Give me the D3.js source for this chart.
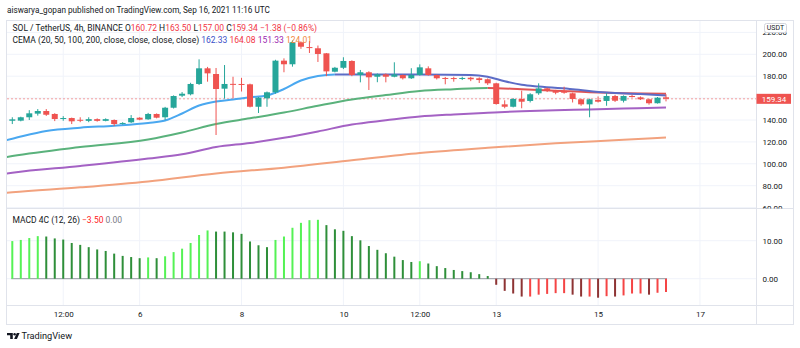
<!DOCTYPE html>
<html><head><meta charset="utf-8">
<script src="https://cdn.jsdelivr.net/npm/d3@7/dist/d3.min.js"></script>
<style>
body{margin:0;background:#fff;}
svg{display:block;}
text{font-family:Roboto,"Liberation Sans",Arial,sans-serif;fill:#131722;}
</style></head>
<body><svg id="c" width="800" height="348"></svg>
<script>
// ---------- DATA ----------
const firstCandle = "2021-09-03T08:00";   // 4h candles
const opens  = [144.6,139.3,139.4,142.5,145.8,148.2,145.5,141.4,141.8,140.2,139.2,140.8,139.2,140.0,136.5,137.9,142.1,140.6,145.5,142.5,151.2,162.2,163.5,172.9,187.2,182.0,168.6,173.0,172.9,172.6,152.1,159.8,165.3,194.2,190.9,211.0,206.6,205.5,200.9,184.1,187.7,193.9,181.1,183.6,179.5,181.7,179.5,181.1,178.1,181.1,187.2,181.1,178.4,178.3,178.1,178.6,178.1,177.2,173.5,154.3,152.1,159.2,157.4,164.4,168.9,166.8,166.8,164.4,158.9,154.3,158.3,157.4,161.9,157.6,161.9,160.7,158.9,155.3,160.72];
const highs  = [146.0,142.5,143.0,149.0,150.0,150.0,146.2,143.5,142.2,142.5,142.5,141.5,141.5,140.5,138.0,144.5,142.5,146.5,146.0,152.0,162.5,165.5,174.0,195.4,188.5,187.5,190.2,179.5,178.5,173.2,161.0,166.0,195.0,196.3,212.5,211.8,212.1,208.0,201.2,188.5,197.3,194.5,185.7,184.5,182.5,182.5,192.7,181.5,187.3,190.8,189.0,181.5,179.3,179.5,179.5,179.5,179.0,178.0,174.0,158.0,160.0,166.8,164.5,173.5,169.5,167.5,170.4,165.0,159.5,159.5,161.5,164.5,163.0,162.5,163.0,161.5,159.5,161.0,163.50];
const lows   = [138.2,136.3,138.8,140.0,144.0,143.7,139.0,139.3,136.3,138.0,138.0,138.5,138.8,134.5,135.8,137.3,139.8,140.2,141.5,139.8,150.5,161.0,162.5,172.0,175.0,126.3,159.5,159.8,166.0,151.5,146.4,152.1,164.0,183.6,188.7,205.0,201.2,193.0,180.0,183.5,186.5,180.0,174.4,167.4,174.5,174.4,179.0,177.0,177.5,180.5,180.5,177.0,172.6,175.0,176.5,175.5,173.8,172.0,154.0,150.7,151.5,150.7,156.0,163.0,165.5,163.5,164.0,156.0,153.0,142.5,156.0,153.0,156.5,156.0,160.5,158.3,154.0,155.0,157.00];
const closes = [139.3,140.6,142.5,146.1,148.2,144.8,140.9,141.8,138.8,139.9,140.8,139.2,140.8,136.3,137.3,141.8,140.3,145.5,142.1,151.2,161.9,164.0,172.9,187.2,182.6,168.3,172.9,172.7,172.6,152.1,160.4,165.3,194.2,190.9,211.0,206.9,206.2,200.3,184.4,187.7,193.9,181.1,183.6,179.0,181.7,179.5,181.7,178.1,181.1,188.1,181.1,178.1,178.1,178.1,178.4,177.2,176.5,173.5,154.6,152.1,159.2,156.7,163.5,168.9,166.8,164.9,164.9,159.2,154.3,158.9,156.7,161.9,157.6,161.9,161.6,158.9,155.3,160.4,159.34];

// EMA readings (candle position -> value)
const ema20Idx  = [0,1,5,9,13,17,19,21,23,25,27,29,31,33,35,37,39,43,49,55,57,59,61,63,67,71,75,78];
const ema20Val  = [121.1,122.9,130.0,133.0,134.8,137.3,139.5,145.9,153.2,156.9,158.7,160.7,162.4,168.3,176.1,180.2,181.6,181.6,181.5,181.2,179.5,175.4,172.2,170.5,168.1,165.1,163.7,162.33];
const ema50Idx  = [0,1,9,17,21,25,29,33,37,41,45,49,53,57,61,65,69,73,78];
const ema50Val  = [105.8,107.1,115.3,122.2,128.6,136.3,141.5,146.8,153.0,158.7,162.8,166.5,168.1,169.2,168.1,166.8,165.3,164.4,164.08];
const ema100Idx = [0,1,9,17,21,25,29,33,37,41,45,49,53,57,61,65,69,73,78];
const ema100Val = [90.7,91.8,98.0,104.8,108.7,115.3,119.0,123.7,129.5,135.9,139.7,143.2,145.1,146.6,148.0,148.9,149.6,150.4,151.33];
const ema200Idx = [0,1,9,17,25,33,41,49,57,65,73,78];
const ema200Val = [73.3,74.0,78.5,83.9,91.2,96.5,103.2,109.9,114.7,118.7,121.9,124.01];

// MACD 4C histogram, candles 1..78
const macdVals = [9.9,10.2,10.7,11.2,11.1,10.6,10.3,9.4,8.9,8.3,7.7,7.3,6.6,6.0,5.7,5.4,5.6,5.4,5.9,7.0,7.9,9.4,11.5,12.7,12.4,12.4,12.2,11.8,9.8,8.8,8.3,10.2,11.1,13.4,14.7,15.4,15.5,14.1,13.0,12.6,11.2,10.1,8.6,7.6,6.7,5.8,4.9,4.4,4.6,4.0,3.3,2.8,2.3,2.0,1.7,1.2,0.7,-1.6,-3.2,-3.9,-4.7,-4.7,-4.2,-4.0,-3.8,-3.8,-4.2,-4.7,-4.7,-5.0,-4.6,-4.7,-4.4,-3.9,-3.9,-4.2,-3.7,-3.5];

const priceTicks = [60,80,100,120,140,180,200,220];
const gridTicks  = [60,80,100,120,140,160,180,200,220];
const macdTicks  = [0,10];
const timeTickDates  = ["2021-09-04T12:00","2021-09-06T00:00","2021-09-08T00:00","2021-09-10T00:00","2021-09-11T12:00","2021-09-13T00:00","2021-09-15T00:00","2021-09-17T00:00"];
const timeTickLabels = ["12:00","6","8","10","12:00","13","15","17"];
const lastClose = 159.34;

// ---------- LAYOUT ----------
const svg = d3.select("#c");
const PL = 7, PR = 756.5, FR = 793.5;
const mainTop = 20.5, mainBot = 208.5, macdBot = 305.5, axisBot = 324.5;
const frameCol = "#e0e3eb", gridCol = "#f0f3fa";
const upCol = "#26a69a", dnCol = "#ef5350";

const parseT = d3.utcParse("%Y-%m-%dT%H:%M");
const t0 = parseT(firstCandle);
const dates = closes.map((_, k) => d3.utcHour.offset(t0, 4 * k));
const x = d3.scaleUtc().domain([dates[1], dates[dates.length - 1]]).range([12.3, 666]);
const y = d3.scaleLinear().domain([60, 200]).range([207.6, 54.3]);
const ym = d3.scaleLinear().domain([0, 10]).range([278.7, 240.7]);

const defs = svg.append("defs");
defs.append("clipPath").attr("id","cpMain").append("rect").attr("x",PL).attr("y",mainTop).attr("width",PR-PL).attr("height",mainBot-mainTop);
defs.append("clipPath").attr("id","cpMacd").append("rect").attr("x",PL).attr("y",mainBot).attr("width",PR-PL).attr("height",macdBot-mainBot);
defs.append("clipPath").attr("id","cpPAx").append("rect").attr("x",PR).attr("y",32.6).attr("width",FR-PR).attr("height",mainBot-32.6);

// header
svg.append("text").attr("x",7).attr("y",10).attr("dy","0.35em").attr("font-size",8.2).text("aiswarya_gopan published on TradingView.com, Sep 16, 2021 11:16 UTC");

// grids
const grid = svg.append("g");
grid.selectAll(".hg").data(gridTicks).join("line")
  .attr("x1",PL).attr("x2",PR).attr("y1",d=>y(d)).attr("y2",d=>y(d))
  .attr("stroke",gridCol).attr("clip-path","url(#cpMain)");
grid.selectAll(".mg").data(macdTicks).join("line")
  .attr("x1",PL).attr("x2",PR).attr("y1",d=>ym(d)).attr("y2",d=>ym(d)).attr("stroke",gridCol);
grid.selectAll(".vg").data(timeTickDates).join("line")
  .attr("x1",d=>x(parseT(d))).attr("x2",d=>x(parseT(d))).attr("y1",mainTop).attr("y2",macdBot).attr("stroke",gridCol);

// price line
const gMain = svg.append("g").attr("clip-path","url(#cpMain)");
gMain.append("line").attr("x1",PL).attr("x2",PR).attr("y1",y(lastClose)).attr("y2",y(lastClose))
  .attr("stroke",dnCol).attr("stroke-opacity",0.55).attr("stroke-dasharray","2,2");

// EMAs
const line = d3.line().x(d=>x(dates[d.k])).y(d=>y(d.v)).curve(d3.curveMonotoneX);
let cpN = 0;
function drawEma(idx, vals, upC, dnC, w){
  const pts = idx.map((k,j)=>({k, v: vals[j]}));
  const groups = [];
  let cur = null;
  for (let j = 0; j < pts.length - 1; j++) {
    const col = pts[j+1].v > pts[j].v ? upC : dnC;
    if (!cur || cur.col !== col) { cur = {col, a: j, b: j+1}; groups.push(cur); }
    cur.b = j + 1;
  }
  const full = line(pts);
  groups.forEach((g,gi) => {
    const x1 = gi === 0 ? 0 : x(dates[pts[g.a].k]);
    const x2 = gi === groups.length-1 ? 800 : x(dates[pts[g.b].k]);
    const id = "cpE" + (cpN++);
    defs.append("clipPath").attr("id",id).append("rect").attr("x",x1).attr("y",0).attr("width",x2-x1).attr("height",348);
    gMain.append("g").attr("clip-path",`url(#${id})`).append("path").attr("d",full)
      .attr("fill","none").attr("stroke",g.col).attr("stroke-width",w).attr("stroke-linejoin","round");
  });
}
drawEma(ema200Idx, ema200Val, "#f2a27e", "#f2a27e", 2);
drawEma(ema100Idx, ema100Val, "#a462c4", "#a462c4", 2);
drawEma(ema50Idx,  ema50Val,  "#5ab27c", "#e05454", 2);
drawEma(ema20Idx,  ema20Val,  "#4aa8f0", "#5c6cc6", 2);

// candles
const candles = closes.map((c,k)=>({d:dates[k], o:opens[k], h:highs[k], l:lows[k], c}));
const gC = gMain.append("g");
gC.selectAll("line").data(candles).join("line")
  .attr("x1",d=>x(d.d)).attr("x2",d=>x(d.d)).attr("y1",d=>y(d.h)).attr("y2",d=>y(d.l))
  .attr("stroke",d=>d.c>=d.o?upCol:dnCol).attr("stroke-width",1);
gC.selectAll("rect").data(candles).join("rect")
  .attr("x",d=>x(d.d)-3).attr("width",6)
  .attr("y",d=>y(Math.max(d.o,d.c)))
  .attr("height",d=>Math.max(1, y(Math.min(d.o,d.c)) - y(Math.max(d.o,d.c))))
  .attr("fill",d=>d.c>=d.o?upCol:dnCol);

// MACD
const gM = svg.append("g").attr("clip-path","url(#cpMacd)");
const mData = macdVals.map((v,j)=>({d:dates[j+1], v, p: j===0 ? -Infinity : macdVals[j-1]}));
const mCol = d => d.v >= 0 ? (d.v > d.p ? "#55f255" : "#2f8f3a") : (d.v < d.p ? "#8e3434" : "#f54545");
gM.append("line").attr("x1",x(mData[0].d)-1).attr("x2",x(mData[mData.length-1].d)+1)
  .attr("y1",ym(0)).attr("y2",ym(0)).attr("stroke","#9598a1").attr("stroke-width",1);
gM.selectAll("rect").data(mData).join("rect")
  .attr("x",d=>x(d.d)-1).attr("width",2)
  .attr("y",d=>Math.min(ym(d.v),ym(0)))
  .attr("height",d=>Math.abs(ym(d.v)-ym(0)))
  .attr("fill",mCol);

// frame
const fr = svg.append("g").attr("stroke",frameCol).attr("fill","none");
fr.append("rect").attr("x",6.5).attr("y",mainTop).attr("width",FR-6.5).attr("height",axisBot-mainTop);
fr.append("line").attr("x1",6.5).attr("x2",FR).attr("y1",mainBot).attr("y2",mainBot);
fr.append("line").attr("x1",6.5).attr("x2",FR).attr("y1",macdBot).attr("y2",macdBot);
fr.append("line").attr("x1",PR).attr("x2",PR).attr("y1",mainTop).attr("y2",axisBot);

// price axis (clip wrapper outside the transformed group)
const pAxWrap = svg.append("g").attr("clip-path","url(#cpPAx)");
const pAx = pAxWrap.append("g").attr("transform",`translate(${PR},0)`)
  .call(d3.axisRight(y).tickValues(priceTicks).tickSize(0).tickPadding(6).tickFormat(d3.format(".2f")));
pAx.select(".domain").remove();
pAx.selectAll("text").attr("font-size",8).attr("fill","#131722").style("font-family","Roboto,sans-serif");

const mAx = svg.append("g").attr("transform",`translate(${PR},0)`)
  .call(d3.axisRight(ym).tickValues(macdTicks).tickSize(0).tickPadding(6).tickFormat(d3.format(".2f")));
mAx.select(".domain").remove();
mAx.selectAll("text").attr("font-size",8).attr("fill","#131722").style("font-family","Roboto,sans-serif");

// time axis
const tAx = svg.append("g").attr("transform",`translate(0,${macdBot})`)
  .call(d3.axisBottom(x).tickValues(timeTickDates.map(parseT)).tickSize(0).tickPadding(6).tickFormat((d,i)=>timeTickLabels[i]));
tAx.select(".domain").remove();
tAx.selectAll("text").attr("font-size",8).attr("fill","#131722").style("font-family","Roboto,sans-serif");

// USDT box
svg.append("rect").attr("x",764.5).attr("y",23.5).attr("width",22).attr("height",9).attr("rx",2)
  .attr("fill","#fff").attr("stroke","#d1d4dc");
svg.append("text").attr("x",775.5).attr("y",28).attr("dy","0.35em").attr("text-anchor","middle").attr("font-size",7).text("USDT");

// last price label
svg.append("rect").attr("x",PR).attr("y",y(lastClose)-5).attr("width",34.5).attr("height",10).attr("fill",dnCol);
svg.append("text").attr("x",PR+17.5).attr("y",y(lastClose)).attr("dy","0.35em").attr("text-anchor","middle")
  .attr("font-size",8).style("fill","#fff").text(d3.format(".2f")(lastClose));

// legends
const red = "#f23645";
const lg1 = svg.append("text").attr("x",12.5).attr("y",28).attr("dy","0.35em").attr("font-size",8.5);
lg1.append("tspan").text("SOL / TetherUS, 4h, BINANCE  O");
lg1.append("tspan").style("fill",red).text(opens[opens.length-1].toFixed(2));
lg1.append("tspan").text(" H");
lg1.append("tspan").style("fill",red).text(highs[highs.length-1].toFixed(2));
lg1.append("tspan").text(" L");
lg1.append("tspan").style("fill",red).text(lows[lows.length-1].toFixed(2));
lg1.append("tspan").text(" C");
lg1.append("tspan").style("fill",red).text(lastClose.toFixed(2));
lg1.append("tspan").style("fill",red).text(" \u22121.38 (\u22120.86%)");

const lg2 = svg.append("text").attr("x",12.5).attr("y",40.5).attr("dy","0.35em").attr("font-size",8.5);
lg2.append("tspan").text("CEMA (20, 50, 100, 200, close, close, close, close) ");
lg2.append("tspan").style("fill","#3a4fc8").text(ema20Val[ema20Val.length-1].toFixed(2));
lg2.append("tspan").text(" ");
lg2.append("tspan").style("fill",red).text(ema50Val[ema50Val.length-1].toFixed(2));
lg2.append("tspan").text(" ");
lg2.append("tspan").style("fill","#9c27b0").text(ema100Val[ema100Val.length-1].toFixed(2));
lg2.append("tspan").text(" ");
lg2.append("tspan").style("fill","#f0873e").text(ema200Val[ema200Val.length-1].toFixed(2));

const lg3 = svg.append("text").attr("x",12.5).attr("y",220).attr("dy","0.35em").attr("font-size",8.5);
lg3.append("tspan").text("MACD 4C (12, 26)  ");
lg3.append("tspan").style("fill","#ff1a1a").text("\u22123.50");
lg3.append("tspan").text("  ");
lg3.append("tspan").style("fill","#787b86").text("0.00");

// TradingView logo
const logo = svg.append("g").attr("fill","#131722");
logo.append("path").attr("d","M7,333 H12.8 V339 H10.2 V335.3 H7 Z");
logo.append("circle").attr("cx",14.6).attr("cy",334.2).attr("r",1.2);
logo.append("path").attr("d","M16.8,333 H19.6 L16.9,339 H14.1 Z");
svg.append("text").attr("x",21.5).attr("y",336).attr("dy","0.35em").attr("font-size",9.2).text("TradingView");
</script></body></html>
